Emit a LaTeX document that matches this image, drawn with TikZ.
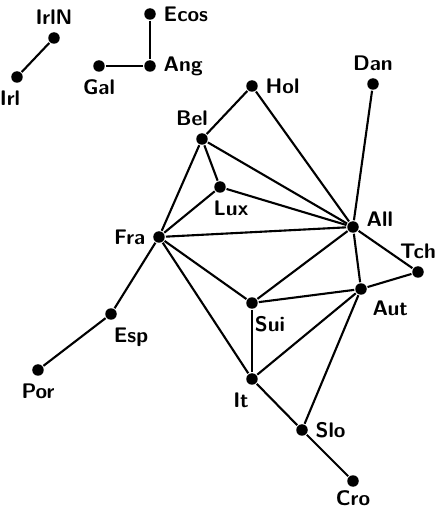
\documentclass[tikz,border=0pt]{standalone}
\usepackage{tikz}

\tikzset{pays/.style={circle, fill=black, inner sep=0pt, minimum size=0.23cm,
    label distance=0pt},
  every label/.style={font=\large\sffamily\bfseries}}

\begin{document}
\begin{tikzpicture}[very thick]
\useasboundingbox (0,0) rectangle (8.76,10.18);
% les pays
\node[pays, label=above:IrlN] (irln) at (1.08,9.42) {};
\node[pays, label={[xshift=-0.14cm]below:Irl}] (irl) at (0.34,8.64) {};
\node[pays, label=right:Ecos] (ecos) at (3.00,9.90) {};
\node[pays, label=right:Ang] (ang) at (3.00,8.86) {};
\node[pays, label=below:Gal] (gal) at (1.98,8.86) {};
\node[pays, label=right:Hol] (hol) at (5.04,8.46) {};
\node[pays, label=above:Dan] (dan) at (7.46,8.50) {};
\node[pays, label={[xshift=-0.2cm]above:Bel}] (bel) at (4.04,7.40) {};
\node[pays, label={[xshift=0.22cm]below:Lux}] (lux) at (4.40,6.44) {};
\node[pays, label={[yshift=0.16cm]right:All}] (all) at (7.06,5.64) {};
\node[pays, label=left:Fra] (fra) at (3.18,5.44) {};
\node[pays, label=above:Tch] (tch) at (8.36,4.74) {};
\node[pays, label=below right:Aut] (aut) at (7.22,4.40) {};
\node[pays, label={[xshift=0.36cm]below:Sui}] (sui) at (5.04,4.12) {};
\node[pays, label={[xshift=0.4cm]below:Esp}] (esp) at (2.22,3.90) {};
\node[pays, label=below:Por] (por) at (0.76,2.78) {};
\node[pays, label={[xshift=-0.22cm]below:It}] (it) at (5.04,2.60) {};
\node[pays, label=right:Slo] (slo) at (6.04,1.58) {};
\node[pays, label={[yshift=0.08cm]below:Cro}] (cro) at (7.06,0.56) {};
% les frontieres
\foreach \a/\b in {irln/irl, ecos/ang, ang/gal, hol/bel, hol/all, dan/all,
    bel/lux, bel/all, bel/fra, lux/fra, lux/all, fra/all, fra/sui, fra/it,
    fra/esp, esp/por, all/sui, all/aut, all/tch, tch/aut, aut/sui, aut/it,
    aut/slo, sui/it, it/slo, slo/cro}
    {\draw (\a) -- (\b);}
\end{tikzpicture}
\end{document}
